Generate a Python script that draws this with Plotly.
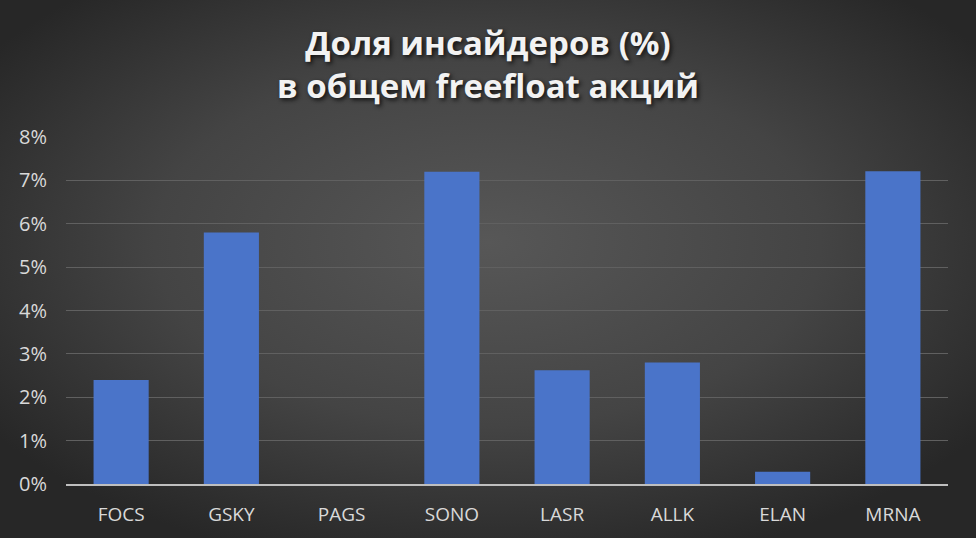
import base64
import plotly.graph_objects as go

categories = ["FOCS", "GSKY", "PAGS", "SONO", "LASR", "ALLK", "ELAN", "MRNA"]
insider_share = [0.024, 0.058, 0.0, 0.072, 0.0262, 0.028, 0.0028, 0.0721]
y_ticks = [0, 0.01, 0.02, 0.03, 0.04, 0.05, 0.06, 0.07, 0.08]

W, H = 976, 538
L, R, T, B = 66, 28, 137, 54
pw, ph = W - L - R, H - T - B

svg = f'''<svg xmlns="http://www.w3.org/2000/svg" width="{W}" height="{H}" viewBox="0 0 {W} {H}" preserveAspectRatio="none">
<defs><radialGradient id="g" cx="50%" cy="45%" r="62%" fx="50%" fy="45%">
<stop offset="0%" stop-color="#575757"/><stop offset="55%" stop-color="#444444"/><stop offset="100%" stop-color="#272727"/>
</radialGradient></defs>
<rect width="{W}" height="{H}" fill="url(#g)"/></svg>'''
bg_src = "data:image/svg+xml;base64," + base64.b64encode(svg.encode()).decode()

fig = go.Figure()
fig.add_trace(go.Bar(
    x=categories, y=insider_share,
    marker=dict(color="#4a74c9", line=dict(width=0)),
    hoverinfo="x+y",
))

fig.update_layout(
    width=W, height=H,
    margin=dict(l=L, r=R, t=T, b=B),
    paper_bgcolor="#3a3a3a",
    plot_bgcolor="rgba(0,0,0,0)",
    bargap=0.5,
    showlegend=False,
    title=dict(
        text="<b>Доля инсайдеров (%)<br>в общем freefloat акций</b>",
        x=0.5, xanchor="center", yref="container", y=0.898, yanchor="top",
        font=dict(family="Open Sans, sans-serif", size=33, color="#f2f2f2",
                  shadow="2px 2px 4px #111111"),
    ),
    font=dict(family="Open Sans, sans-serif", color="#d9d9d9"),
    images=[dict(
        source=bg_src, xref="paper", yref="paper",
        x=-L / pw, y=1 + T / ph, sizex=W / pw, sizey=H / ph,
        xanchor="left", yanchor="top", sizing="stretch", layer="below",
    )],
)
fig.update_xaxes(
    showgrid=False, showline=True, linecolor="#bfbfbf", linewidth=2,
    tickfont=dict(size=19, color="#d9d9d9"), ticks="", ticklen=0,
    ticklabelstandoff=12,
)
fig.update_yaxes(
    range=[0, 0.08], tickvals=y_ticks, tickformat=".0%",
    showgrid=True, gridcolor="#606060", gridwidth=1,
    zeroline=False, showline=False,
    tickfont=dict(size=20, color="#d9d9d9"), ticklabelstandoff=18,
)

fig.write_html(
    "out.html",
    config={"displayModeBar": False},
    post_script="document.body.style.margin='0';document.body.style.overflow='hidden';",
)
